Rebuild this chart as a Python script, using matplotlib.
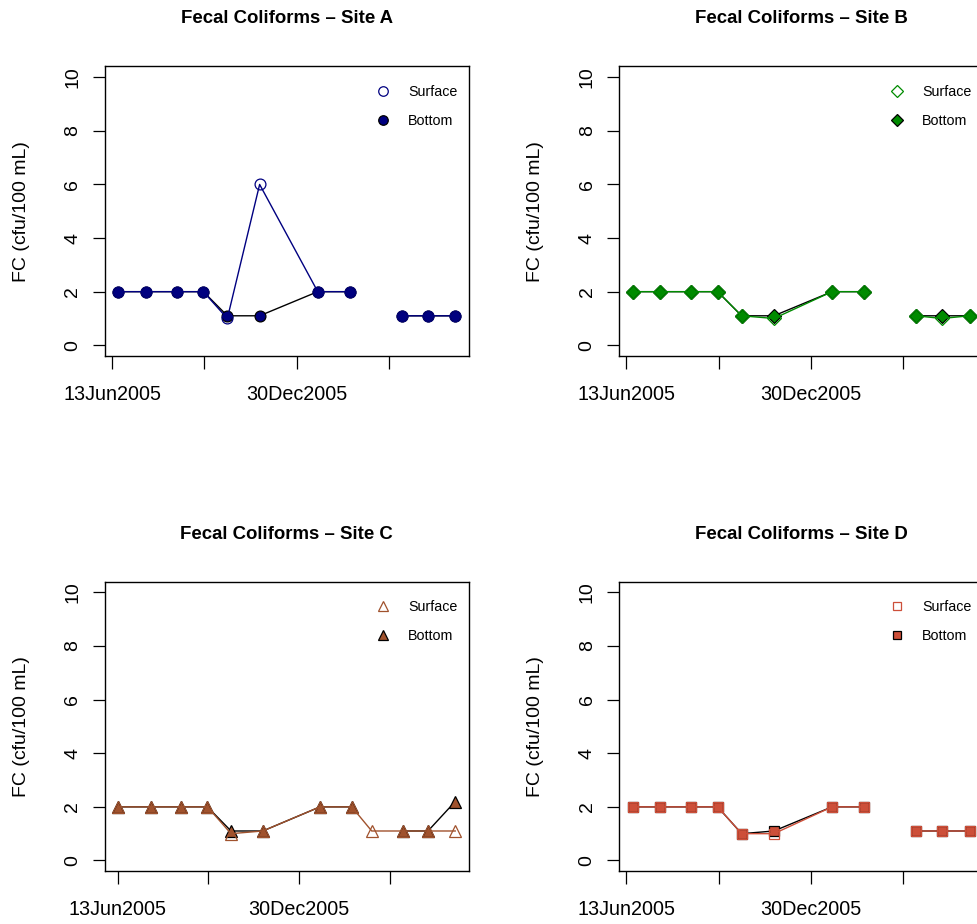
import matplotlib
matplotlib.use("Agg")
import matplotlib.pyplot as plt
import matplotlib.dates as mdates
import numpy as np
from datetime import datetime
from matplotlib.lines import Line2D

plt.rcParams['font.family'] = ['Liberation Sans', 'DejaVu Sans']

nan = np.nan

# sampling dates (Site C has an extra March visit and an earlier first visit)
DATES = ["2005-06-20", "2005-07-20", "2005-08-22", "2005-09-20", "2005-10-16", "2005-11-20",
         "2006-01-22", "2006-02-26", "2006-03-20", "2006-04-23", "2006-05-21", "2006-06-20"]
DATES_C = ["2005-06-14", "2005-07-20", "2005-08-22", "2005-09-20", "2005-10-16", "2005-11-20",
           "2006-01-22", "2006-02-26", "2006-03-20", "2006-04-23", "2006-05-21", "2006-06-20"]

SITE_A_SURFACE = [2, 2, 2, 2, 1.0, 6, 2, 2, nan, 1.1, 1.1, 1.1]
SITE_A_BOTTOM = [2, 2, 2, 2, 1.1, 1.1, 2, 2, nan, 1.1, 1.1, 1.1]
SITE_B_SURFACE = [2, 2, 2, 2, 1.1, 1.0, 2, 2, nan, 1.1, 1.0, 1.1]
SITE_B_BOTTOM = [2, 2, 2, 2, 1.1, 1.1, 2, 2, nan, 1.1, 1.1, 1.1]
SITE_C_SURFACE = [2, 2, 2, 2, 1.0, 1.1, 2, 2, 1.1, 1.1, 1.1, 1.1]
SITE_C_BOTTOM = [2, 2, 2, 2, 1.1, 1.1, 2, 2, nan, 1.1, 1.1, 2.2]
SITE_D_SURFACE = [2, 2, 2, 2, 1.0, 1.0, 2, 2, nan, 1.1, 1.1, 1.1]
SITE_D_BOTTOM = [2, 2, 2, 2, 1.0, 1.1, 2, 2, nan, 1.1, 1.1, 1.1]

TICK_DATES = ["2005-06-13", "2005-09-21", "2005-12-30", "2006-04-09"]
TICK_LABELS = ["13Jun2005", "", "30Dec2005", ""]
Y_TICKS = [0, 2, 4, 6, 8, 10]

SITES = [
    ("Fecal Coliforms \u2013 Site A", DATES, SITE_A_SURFACE, SITE_A_BOTTOM, "o", "#000080", 7.8),
    ("Fecal Coliforms \u2013 Site B", DATES, SITE_B_SURFACE, SITE_B_BOTTOM, "D", "#008B00", 6.8),
    ("Fecal Coliforms \u2013 Site C", DATES_C, SITE_C_SURFACE, SITE_C_BOTTOM, "^", "#A0522D", 8.8),
    ("Fecal Coliforms \u2013 Site D", DATES, SITE_D_SURFACE, SITE_D_BOTTOM, "s", "#CD4F39", 7.0),
]

W, H = 977, 924
BOX_W, BOX_H = 363.7, 289.5
LEFTS = [105, 619.3]
TOPS = [66.5, 581.7]

fig = plt.figure(figsize=(W / 100, H / 100), dpi=100)

to_num = lambda ds: mdates.date2num([datetime.strptime(d, "%Y-%m-%d") for d in ds])

for i, (title, dates, surf, bott, mk, col, ms) in enumerate(SITES):
    left = LEFTS[i % 2]
    top = TOPS[i // 2]
    ax = fig.add_axes([left / W, 1 - (top + BOX_H) / H, BOX_W / W, BOX_H / H])

    x = to_num(dates)
    surf = np.array(surf, dtype=float)
    bott = np.array(bott, dtype=float)

    # bottom first (black line, filled marker), surface drawn over it
    ax.plot(x, bott, color="black", lw=1.0, marker=mk, ms=ms,
            mfc=col, mec="black", mew=0.9)
    ax.plot(x, surf, color=col, lw=1.0, marker=mk, ms=ms,
            mfc="none", mec=col, mew=0.9)

    # R-style 4% padding on the observed range
    ok = ~(np.isnan(surf) & np.isnan(bott))
    lo, hi = x[ok].min(), x[ok].max()
    pad = 0.04 * (hi - lo)
    ax.set_xlim(lo - pad, hi + pad)
    ax.set_ylim(-0.4, 10.4)

    ax.set_xticks(to_num(TICK_DATES))
    ax.set_xticklabels(TICK_LABELS, fontsize=14.2)
    ax.set_yticks(Y_TICKS)
    ax.set_yticklabels([str(v) for v in Y_TICKS], fontsize=14, rotation=90, va="center")
    ax.tick_params(axis="both", direction="out", length=9, width=0.9, color="black")
    ax.tick_params(axis="x", pad=12)
    ax.tick_params(axis="y", pad=8)
    for s in ax.spines.values():
        s.set_linewidth(1.0)

    ax.set_ylabel("FC (cfu/100 mL)", fontsize=14)
    ax.yaxis.set_label_coords(-0.206, 0.5)
    ax.set_title(title, fontsize=13.4, fontweight="bold", pad=31)

    handles = [
        Line2D([0], [0], ls="none", marker=mk, ms=ms * 0.88, mfc="none", mec=col, mew=0.9),
        Line2D([0], [0], ls="none", marker=mk, ms=ms * 0.88, mfc=col, mec="black", mew=0.9),
    ]
    ax.legend(handles, ["Surface", "Bottom"], loc="upper left", bbox_to_anchor=(0.725, 0.955),
              frameon=False, fontsize=10.3, handlelength=1.2, handletextpad=1.15,
              labelspacing=1.05, borderaxespad=0)

fig.savefig("out.png", dpi=100)
